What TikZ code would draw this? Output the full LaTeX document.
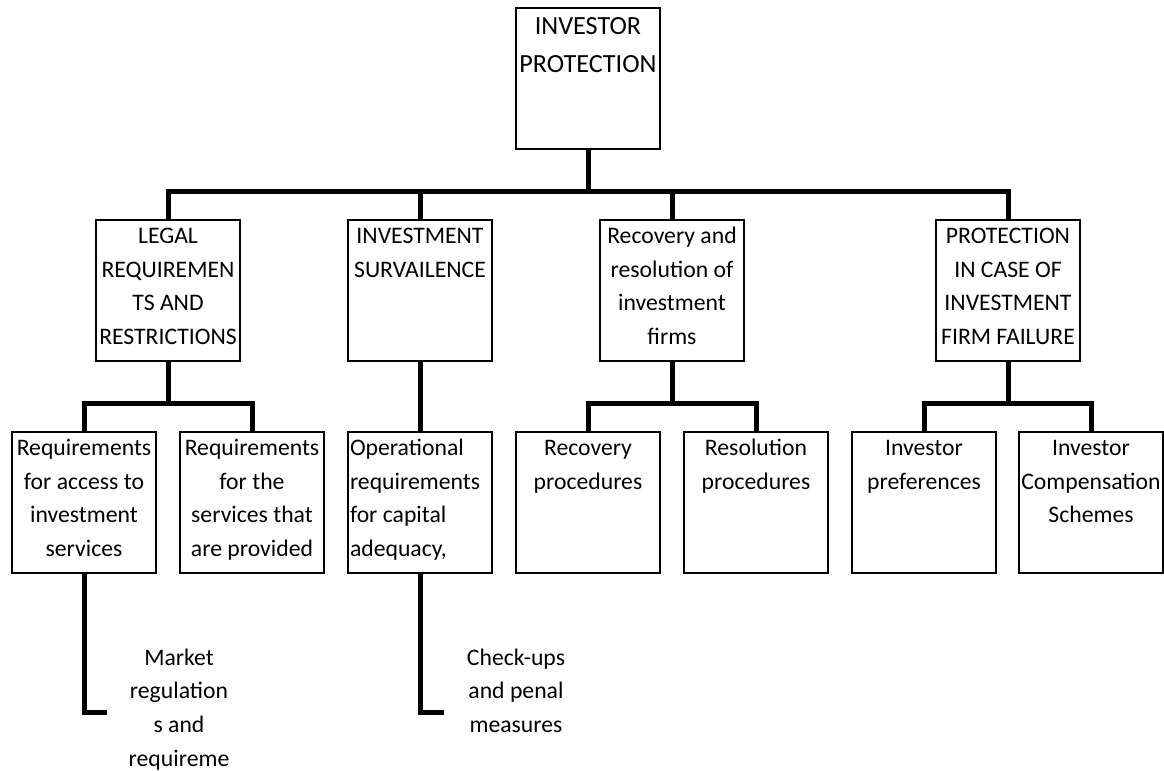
\documentclass[tikz,border=0pt]{standalone}
\usepackage{fontspec}
\setmainfont{Carlito}
\usepackage{tikz}

\begin{document}
\begin{tikzpicture}[x=0.5pt,y=-0.5pt,
  box/.style={draw,line width=0.8pt,anchor=north,align=flush center,text width=70pt,inner xsep=1pt,inner ysep=2.5pt,text height=9.3pt,text depth=56.2pt,font=\fontsize{11.85pt}{16.85pt}\selectfont},
  rootbox/.style={box,text height=10.7pt,text depth=54.8pt,font=\fontsize{13.1pt}{19pt}\selectfont},
  freetext/.style={anchor=north,align=flush center,text width=60pt,inner sep=0pt,text height=9.3pt,font=\fontsize{11.85pt}{16.85pt}\selectfont},
  link/.style={line width=2.5pt,line join=miter}]
\useasboundingbox (0,0) rectangle (1164,771);
% top
\node[rootbox] (IP) at (588,7) {INVESTOR\\PROTECTION};
% first level
\node[box] (LR) at (168,219) {LEGAL\\REQUIREMEN\\TS AND\\RESTRICTIONS};
\node[box] (IS) at (420,219) {INVESTMENT\\SURVAILENCE};
\node[box] (RR) at (672,219) {Recovery and\\resolution of\\investment\\firms};
\node[box] (PF) at (1008,219) {PROTECTION\\IN CASE OF\\INVESTMENT\\FIRM FAILURE};
% second level
\node[box] (RA) at (84,431) {Requirements\\for access to\\investment\\services};
\node[box] (RS) at (252,431) {Requirements\\for the\\services that\\are provided};
\node[box,align=flush left] (OR) at (420,431) {Operational\\requirements\\for capital\\adequacy,};
\node[box] (RP) at (588,431) {Recovery\\procedures};
\node[box] (SP) at (756,431) {Resolution\\procedures};
\node[box] (IPr) at (924,431) {Investor\\preferences};
\node[box] (ICS) at (1091,431) {Investor\\Compensation\\Schemes};
% loose texts
\node[freetext] (MR) at (179,646) {Market\\regulation\\s and\\requireme};
\node[freetext] (CP) at (516,646) {Check-ups\\and penal\\measures};
\coordinate (MRend) at (107,712.5);
\coordinate (CPend) at (444,712.5);
% connectors
\foreach \c in {LR,IS,RR,PF} \draw[link] (IP.south) -- (IP.south |- 0,191.5) -| (\c.north);
\foreach \c in {RA,RS} \draw[link] (LR.south) -- (LR.south |- 0,403) -| (\c.north);
\foreach \c in {RP,SP} \draw[link] (RR.south) -- (RR.south |- 0,403) -| (\c.north);
\foreach \c in {IPr,ICS} \draw[link] (PF.south) -- (PF.south |- 0,403) -| (\c.north);
\draw[link] (IS.south) -- (OR.north);
\draw[link] (RA.south) |- (MRend);
\draw[link] (OR.south) |- (CPend);
\end{tikzpicture}
\end{document}
